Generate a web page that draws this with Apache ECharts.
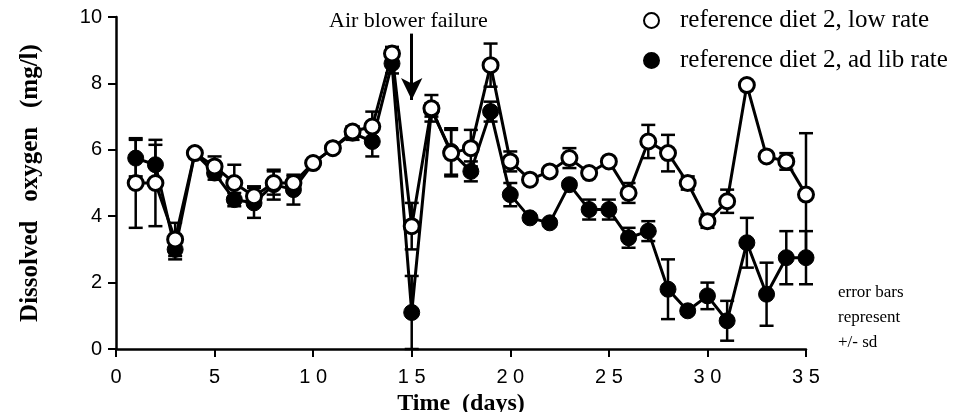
<!DOCTYPE html>
<html lang="en">
<head>
    <meta charset="UTF-8">
    <title>Dissolved oxygen</title>
    <script src="https://cdn.jsdelivr.net/npm/echarts@6/dist/echarts.min.js"></script>
    <style>
        html, body { margin: 0; padding: 0; background: #fff; }
        #chart { width: 955px; height: 412px; }
    </style>
</head>
<body>
    <div id="chart"></div>
    <script>
        // data
        const days = [1,2,3,4,5,6,7,8,9,10,11,12,13,14,15,16,17,18,19,20,21,22,23,24,25,26,27,28,29,30,31,32,33,34,35];
        const lowMean = [5.0,5.0,3.3,5.9,5.5,5.0,4.6,5.0,5.0,5.6,6.05,6.55,6.7,8.9,3.7,7.25,5.9,6.05,8.55,5.65,5.1,5.35,5.75,5.3,5.65,4.7,6.25,5.9,5.0,3.85,4.45,7.95,5.8,5.65,4.65];
        const lowSd = [1.35,1.3,0.5,0.1,0.3,0.55,0.3,0.35,0.2,0.1,0.1,0.15,0.45,0.2,0.7,0.4,0.7,0.55,0.65,0.3,0.1,0.1,0.3,0.1,0.1,0.3,0.5,0.55,0.2,0.2,0.35,0.1,0.1,0.25,1.85];
        const adlibMean = [5.75,5.55,3.0,5.9,5.3,4.5,4.4,4.95,4.8,5.6,6.05,6.5,6.25,8.6,1.1,7.2,5.95,5.35,7.15,4.65,3.95,3.8,4.95,4.2,4.2,3.35,3.55,1.8,1.15,1.6,0.85,3.2,1.65,2.75,2.75];
        const adlibSd = [0.55,0.6,0.3,0.1,0.2,0.2,0.45,0.45,0.45,0.1,0.1,0.2,0.45,0.3,1.1,0.2,0.7,0.3,0.3,0.35,0.1,0.1,0.1,0.3,0.3,0.3,0.3,0.9,0.1,0.4,0.6,0.75,0.95,0.8,0.8];
        const xTicks = [0,5,10,15,20,25,30,35];
        const failureDay = 15;

        const serif = '"Liberation Serif", "DejaVu Serif", serif';
        const sans = '"Liberation Sans", Arial, sans-serif';

        const chart = echarts.init(document.getElementById('chart'));

        function errData(mean, sd) {
            return days.map((d, i) => [d, Math.max(0, mean[i] - sd[i]), mean[i] + sd[i]]);
        }

        // vertical bar with caps
        function renderErr(params, api) {
            const top = api.coord([api.value(0), api.value(2)]);
            const bot = api.coord([api.value(0), api.value(1)]);
            const w = 7;
            const st = { stroke: '#000', lineWidth: 2.5 };
            return {
                type: 'group',
                children: [
                    { type: 'line', shape: { x1: top[0], y1: top[1], x2: bot[0], y2: bot[1] }, style: st },
                    { type: 'line', shape: { x1: top[0] - w, y1: top[1], x2: top[0] + w, y2: top[1] }, style: st },
                    { type: 'line', shape: { x1: bot[0] - w, y1: bot[1], x2: bot[0] + w, y2: bot[1] }, style: st }
                ]
            };
        }

        const option = {
            animation: false,
            backgroundColor: '#fff',
            grid: { left: 116, right: 149, top: 17, bottom: 63, outerBoundsMode: 'none' },
            legend: {
                orient: 'vertical',
                left: 638,
                top: 3,
                itemGap: 15,
                itemWidth: 15,
                itemHeight: 15,
                icon: 'circle',
                data: ['reference diet 2, low rate', 'reference diet 2, ad lib rate'],
                textStyle: { fontFamily: serif, fontSize: 25, color: '#000', padding: [0, 0, 0, 16] }
            },
            xAxis: {
                type: 'value',
                min: 0,
                max: 35,
                interval: 5,
                name: 'Time  (days)',
                nameLocation: 'middle',
                nameGap: 40,
                nameTextStyle: { fontFamily: serif, fontSize: 24, fontWeight: 'bold', color: '#000' },
                axisLine: { lineStyle: { color: '#000', width: 2.5 } },
                axisTick: { length: 8, lineStyle: { color: '#000', width: 2 } },
                axisLabel: {
                    fontFamily: sans, fontSize: 20, color: '#000', margin: 18,
                    formatter: v => xTicks.includes(v) ? String(v).split('').join(' ') : ''
                },
                splitLine: { show: false }
            },
            yAxis: {
                type: 'value',
                min: 0,
                max: 10,
                interval: 2,
                name: 'Dissolved   oxygen   (mg/l)',
                nameLocation: 'middle',
                nameGap: 73,
                nameTextStyle: { fontFamily: serif, fontSize: 25, fontWeight: 'bold', color: '#000' },
                axisLine: { lineStyle: { color: '#000', width: 2.5 } },
                axisTick: { length: 8, lineStyle: { color: '#000', width: 2 } },
                axisLabel: { fontFamily: sans, fontSize: 20, color: '#000', margin: 14 },
                splitLine: { show: false }
            },
            graphic: [
                {
                    type: 'text', left: 329, top: 10,
                    style: { text: 'Air blower failure', font: '22px ' + serif, fill: '#000' }
                },
                {
                    type: 'text', left: 838, top: 280,
                    style: { text: 'error bars\nrepresent\n+/- sd', font: '17px ' + serif, fill: '#000', lineHeight: 25 }
                }
            ],
            series: [
                {
                    type: 'custom',
                    renderItem: renderErr,
                    data: errData(adlibMean, adlibSd),
                    z: 1,
                    silent: true
                },
                {
                    type: 'custom',
                    renderItem: renderErr,
                    data: errData(lowMean, lowSd),
                    z: 1,
                    silent: true
                },
                {
                    name: 'reference diet 2, ad lib rate',
                    type: 'line',
                    data: days.map((d, i) => [d, adlibMean[i]]),
                    symbol: 'circle',
                    symbolSize: 16,
                    lineStyle: { color: '#000', width: 3 },
                    itemStyle: { color: '#000', borderColor: '#000', borderWidth: 1 },
                    z: 2,
                    markLine: {
                        silent: true,
                        symbol: ['none', 'arrow'],
                        symbolSize: [16, 22],
                        label: { show: false },
                        lineStyle: { color: '#000', width: 3, type: 'solid' },
                        data: [[{ coord: [failureDay, 9.5] }, { coord: [failureDay, 7.5] }]]
                    }
                },
                {
                    name: 'reference diet 2, low rate',
                    type: 'line',
                    data: days.map((d, i) => [d, lowMean[i]]),
                    symbol: 'circle',
                    symbolSize: 15,
                    lineStyle: { color: '#000', width: 3 },
                    itemStyle: { color: '#fff', borderColor: '#000', borderWidth: 3 },
                    z: 3
                }
            ]
        };

        chart.setOption(option);
    </script>
</body>
</html>
